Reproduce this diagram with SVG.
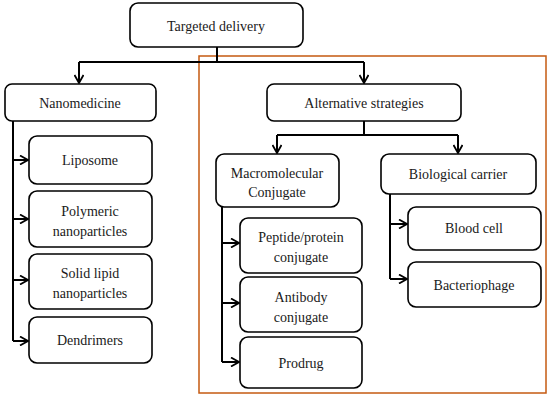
<svg xmlns="http://www.w3.org/2000/svg" width="550" height="401" viewBox="0 0 550 401">
<defs>
<marker id="arr" viewBox="0 0 10 10" refX="9" refY="5" markerWidth="10" markerHeight="10" markerUnits="userSpaceOnUse" orient="auto">
<path d="M1,0.5 L9,5 L1,9.5" fill="none" stroke="#000" stroke-width="1.8"/>
</marker>
<style>
.box{fill:#fff;stroke:#000;stroke-width:1.6}
.c{fill:none;stroke:#000;stroke-width:2}
.a{marker-end:url(#arr)}
.t text{font-size:14px;fill:#1a1a1a;text-anchor:middle;dominant-baseline:central}
</style>
</defs>
<rect width="550" height="401" fill="#fff"/>
<rect id="frame" x="199" y="56" width="347" height="337" fill="none" stroke="#c55a11" stroke-width="1.5"/>
<g id="connectors">
<path class="c" d="M217,47 V62"/>
<path class="c" d="M79,62 H364"/>
<path class="c a" d="M79,62 V83"/>
<path class="c a" d="M364,62 V83"/>
<path class="c" d="M13,121 V341"/>
<path class="c a" d="M13,160 H28"/>
<path class="c a" d="M13,219 H28"/>
<path class="c a" d="M13,280 H28"/>
<path class="c a" d="M13,341 H28"/>
<path class="c" d="M364,121 V135"/>
<path class="c" d="M277,135 H458"/>
<path class="c a" d="M277,135 V153"/>
<path class="c a" d="M458,135 V153"/>
<path class="c" d="M222,207 V362"/>
<path class="c a" d="M222,243 H239"/>
<path class="c a" d="M222,303 H239"/>
<path class="c a" d="M222,362 H239"/>
<path class="c" d="M390,194 V279"/>
<path class="c a" d="M390,224 H407"/>
<path class="c a" d="M390,279 H407"/>
</g>
<g class="t" font-family="'Liberation Serif', 'DejaVu Serif', serif">
<g id="targeted"><rect class="box" x="130" y="3" width="173" height="44" rx="8"/><text x="216" y="26">Targeted delivery</text></g>
<g id="nanomedicine"><rect class="box" x="5" y="84" width="151" height="37" rx="7"/><text x="80" y="103">Nanomedicine</text></g>
<g id="liposome"><rect class="box" x="29" y="136" width="123" height="48" rx="8"/><text x="90" y="160">Liposome</text></g>
<g id="polymeric"><rect class="box" x="29" y="191" width="123" height="56" rx="8"/><text x="90" y="211">Polymeric</text><text x="90" y="231">nanoparticles</text></g>
<g id="solidlipid"><rect class="box" x="29" y="254" width="123" height="55" rx="8"/><text x="90" y="273">Solid lipid</text><text x="90" y="293">nanoparticles</text></g>
<g id="dendrimers"><rect class="box" x="29" y="317" width="123" height="46" rx="8"/><text x="90" y="340">Dendrimers</text></g>
<g id="alternative"><rect class="box" x="267" y="84" width="194" height="37" rx="7"/><text x="364" y="103">Alternative strategies</text></g>
<g id="macromolecular"><rect class="box" x="216" y="154" width="123" height="53" rx="8"/><text x="277" y="173">Macromolecular</text><text x="277" y="192">Conjugate</text></g>
<g id="biological"><rect class="box" x="381" y="154" width="155" height="40" rx="8"/><text x="458" y="174">Biological carrier</text></g>
<g id="peptide"><rect class="box" x="240" y="218" width="122" height="55" rx="8"/><text x="301" y="237">Peptide/protein</text><text x="301" y="257">conjugate</text></g>
<g id="antibody"><rect class="box" x="240" y="277" width="122" height="55" rx="8"/><text x="301" y="297">Antibody</text><text x="301" y="317">conjugate</text></g>
<g id="prodrug"><rect class="box" x="240" y="337" width="122" height="51" rx="8"/><text x="301" y="363">Prodrug</text></g>
<g id="bloodcell"><rect class="box" x="408" y="207" width="133" height="43" rx="8"/><text x="474" y="228">Blood cell</text></g>
<g id="bacteriophage"><rect class="box" x="408" y="262" width="133" height="45" rx="8"/><text x="474" y="285">Bacteriophage</text></g>
</g>
</svg>
